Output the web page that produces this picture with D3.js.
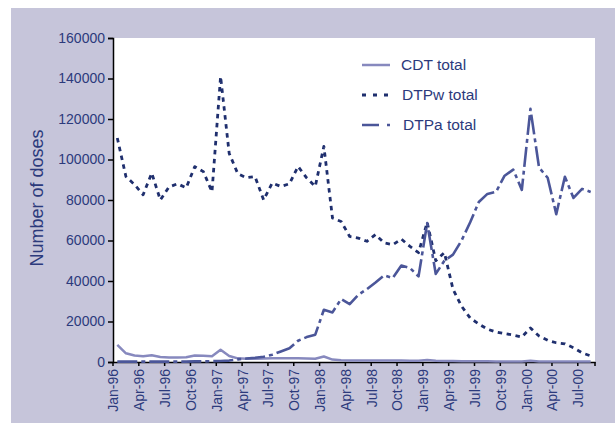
<!DOCTYPE html>
<html>
<head>
<meta charset="utf-8">
<script src="https://cdn.jsdelivr.net/npm/d3@7"></script>
<style>
  body { margin: 0; padding: 0; background: #fff; }
</style>
</head>
<body>
<script>
const months = [
  "Jan-96", "Feb-96", "Mar-96", "Apr-96", "May-96", "Jun-96", "Jul-96", "Aug-96", "Sep-96", "Oct-96", "Nov-96", "Dec-96",
  "Jan-97", "Feb-97", "Mar-97", "Apr-97", "May-97", "Jun-97", "Jul-97", "Aug-97", "Sep-97", "Oct-97", "Nov-97", "Dec-97",
  "Jan-98", "Feb-98", "Mar-98", "Apr-98", "May-98", "Jun-98", "Jul-98", "Aug-98", "Sep-98", "Oct-98", "Nov-98", "Dec-98",
  "Jan-99", "Feb-99", "Mar-99", "Apr-99", "May-99", "Jun-99", "Jul-99", "Aug-99", "Sep-99", "Oct-99", "Nov-99", "Dec-99",
  "Jan-00", "Feb-00", "Mar-00", "Apr-00", "May-00", "Jun-00", "Jul-00", "Aug-00"
];

const cdtTotal = [
  8500, 4300, 3200, 2800, 3300, 2500, 2200, 2200, 2300, 3200, 3100, 2800,
  6000, 3000, 1800, 1600, 1600, 1700, 1800, 1800, 1900, 1800, 1700, 1600,
  2700, 1200, 900, 800, 800, 800, 700, 700, 700, 700, 600, 600,
  1000, 600, 500, 500, 400, 400, 400, 400, 300, 300, 300, 300,
  600, 300, 200, 200, 200, 200, 200, 200
];

const dtpwTotal = [
  110600, 91600, 87600, 82600, 93300, 80000, 86400, 88000, 86000, 96500, 94000, 84000,
  141000, 103000, 93000, 91000, 91600, 80000, 88400, 86700, 88000, 96600, 90900, 86700,
  106500, 71100, 69400, 62000, 61200, 59600, 62900, 58800, 57900, 60700, 57100, 54000,
  69000, 50000, 54000, 36000, 27500, 21700, 18800, 16200, 14800, 14000, 13300, 12300,
  16800, 12800, 10700, 9500, 9000, 7000, 4500, 3000
];

const dtpaTotal = [
  200, 200, 200, 200, 200, 200, 200, 200, 200, 300, 300, 400,
  500, 700, 1300, 1700, 2100, 2600, 3600, 5200, 6800, 10500, 12300, 13500,
  25800, 24500, 31100, 28600, 33200, 36000, 39300, 42800, 41500, 47600, 46400, 42300,
  68600, 43500, 50000, 53000, 60000, 69000, 79000, 83000, 84000, 92000, 95000, 85000,
  125000, 96000, 91000, 73000, 91500, 81000, 85500, 84000
];

const yTicks = [0, 20000, 40000, 60000, 80000, 100000, 120000, 140000, 160000];
const tickMonths = months.filter((m, i) => i % 3 === 0);

const series = [
  { name: "CDT total", values: cdtTotal, color: "#8789be", dash: null, legendDash: null, width: 2.5 },
  { name: "DTPw total", values: dtpwTotal, color: "#1f2f6e", dash: "4.5,4.5", legendDash: "4,7", width: 2.8 },
  { name: "DTPa total", values: dtpaTotal, color: "#4b5699", dash: "20,4,4,4", legendDash: "17,8,3,8", width: 2.6 }
];

const width = 615;
const height = 423;
const plot = { left: 113, right: 595, top: 38, bottom: 362 };
const textColor = "#2c3a7c";
const font = "'Liberation Sans', Arial, sans-serif";

const svg = d3.select("body")
  .append("svg")
  .attr("xmlns", "http://www.w3.org/2000/svg")
  .attr("width", width)
  .attr("height", height)
  .style("font-family", font)
  .style("display", "block");

// backgrounds
svg.append("rect")
  .attr("x", 11).attr("y", 8)
  .attr("width", width - 11).attr("height", height - 8)
  .attr("fill", "#c6c5da");

svg.append("rect")
  .attr("x", plot.left).attr("y", plot.top)
  .attr("width", plot.right - plot.left).attr("height", plot.bottom - plot.top)
  .attr("fill", "#ffffff");

const x = d3.scaleBand()
  .domain(months)
  .range([plot.left, plot.right]);
const bw = x.bandwidth();

const y = d3.scaleLinear()
  .domain([0, 160000])
  .range([plot.bottom, plot.top]);

// y axis
const yAxis = svg.append("g")
  .attr("transform", `translate(${plot.left},0)`)
  .call(d3.axisLeft(y).tickValues(yTicks).tickFormat(d3.format("d")).tickSize(5).tickPadding(3));
yAxis.select(".domain").attr("stroke", "#000").attr("stroke-width", 1.5);
yAxis.selectAll(".tick line").attr("stroke", "#000").attr("stroke-width", 1.5);
yAxis.selectAll("text")
  .attr("fill", textColor)
  .style("font-size", "14px")
  .style("font-family", font);

// x axis
const xAxis = svg.append("g")
  .attr("transform", `translate(0,${plot.bottom})`)
  .call(d3.axisBottom(x).tickValues(tickMonths).tickSize(0).tickFormat(""));
xAxis.select(".domain").attr("stroke", "#000").attr("stroke-width", 1.5);

const xt = svg.append("g");
xt.selectAll("line")
  .data(tickMonths.map((m) => x(m)).concat([plot.right]))
  .join("line")
  .attr("x1", (d) => d).attr("x2", (d) => d)
  .attr("y1", plot.bottom).attr("y2", plot.bottom + 4)
  .attr("stroke", "#000")
  .attr("stroke-width", 1.5);

xt.selectAll("text")
  .data(tickMonths)
  .join("text")
  .attr("transform", (d) => `translate(${x(d) + 0.5},${plot.bottom + 7}) rotate(-90)`)
  .attr("text-anchor", "end")
  .attr("dy", "0.35em")
  .attr("fill", textColor)
  .style("font-size", "14px")
  .text((d) => d);

// y title
svg.append("text")
  .attr("transform", "translate(37,198) rotate(-90)")
  .attr("text-anchor", "middle")
  .attr("dy", "0.35em")
  .attr("fill", textColor)
  .style("font-size", "18px")
  .text("Number of doses");

// lines
const line = d3.line()
  .x((d, i) => x(months[i]) + bw / 2)
  .y((d) => y(d));

svg.append("g")
  .attr("fill", "none")
  .selectAll("path")
  .data(series)
  .join("path")
  .attr("stroke", (d) => d.color)
  .attr("stroke-width", (d) => d.width)
  .attr("stroke-dasharray", (d) => d.dash)
  .attr("stroke-linejoin", "round")
  .attr("d", (d) => line(d.values));

// legend
const legend = svg.append("g")
  .selectAll("g")
  .data(series)
  .join("g")
  .attr("transform", (d, i) => `translate(362,${[65, 95, 125][i]})`);

legend.append("line")
  .attr("x1", 0).attr("x2", 28)
  .attr("stroke", (d) => d.color)
  .attr("stroke-width", (d) => d.width)
  .attr("stroke-dasharray", (d) => d.legendDash);

legend.append("text")
  .attr("x", (d, i) => [39, 40, 41][i])
  .attr("dy", "0.35em")
  .attr("fill", textColor)
  .style("font-size", "15.5px")
  .text((d) => d.name);
</script>
</body>
</html>
